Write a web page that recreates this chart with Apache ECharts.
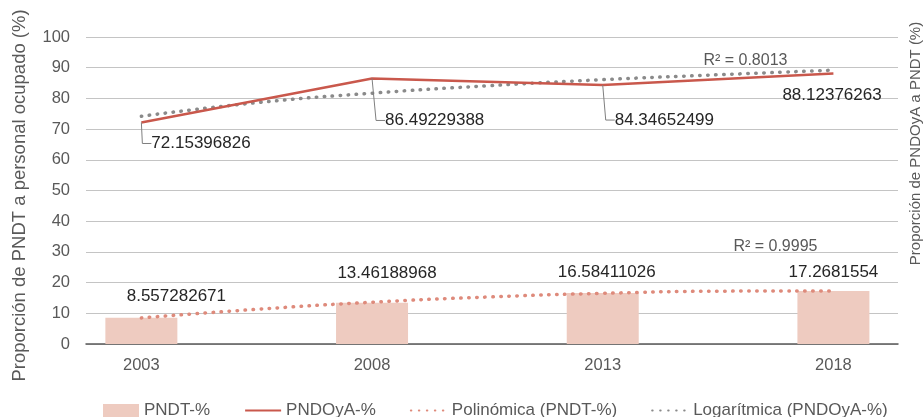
<!DOCTYPE html>
<html>
<head>
<meta charset="utf-8">
<script src="https://cdn.jsdelivr.net/npm/echarts@6/dist/echarts.min.js"></script>
<style>
html,body{margin:0;padding:0;background:#fff;}
#chart{width:923px;height:417px;}
</style>
</head>
<body>
<div id="chart"></div>
<script>
const years = [2003, 2008, 2013, 2018];
const pndt = [8.557282671, 13.46188968, 16.58411026, 17.2681554];
const pndoya = [72.15396826, 86.49229388, 84.34652499, 88.12376263];
const trendYears = [2003, 2005.5, 2008, 2010.5, 2013, 2015.5, 2018];
const polyTrend = [8.5, 11.3, 13.6, 15.3, 16.5, 17.2, 17.3];
const logTrend = [74.2, 78.6, 81.7, 84.1, 86.1, 87.7, 89.2];
const r2Poly = 'R² = 0.9995';
const r2Log = 'R² = 0.8013';
const seriesNames = ['PNDT-%', 'PNDOyA-%', 'Polinómica (PNDT-%)', 'Logarítmica (PNDOyA-%)'];
const leftTitle = 'Proporción de PNDT a personal ocupado (%)';
const rightTitle = 'Proporción de PNDOyA a PNDT (%)';

const FONT = 'Liberation Sans, Arial, sans-serif';
const chart = echarts.init(document.getElementById('chart'));

const barShift = [[35, -8], [15, -16], [4, -7], [0, -5]];
const lineShift = [[5, 21], [8, 42], [7, 35], [-56, 22]];

const lastIdx = trendYears.length - 1;
const hidden = { opacity: 0 };

chart.setOption({
  animation: false,
  textStyle: { fontFamily: FONT },
  grid: { left: 86, right: 25, top: 37, bottom: 73, outerBoundsMode: 'none', containLabel: false },
  legend: {
    left: 98, bottom: -7,
    itemWidth: 36, itemHeight: 13, itemGap: 34,
    textStyle: { fontSize: 17, color: '#595959', fontFamily: FONT },
    data: [
      { name: seriesNames[0], icon: 'rect' },
      { name: seriesNames[1], itemStyle: hidden },
      { name: seriesNames[2], itemStyle: hidden },
      { name: seriesNames[3], itemStyle: hidden }
    ]
  },
  xAxis: {
    type: 'value', min: 2001.8, max: 2019.4,
    axisLine: { show: true, lineStyle: { color: '#595959', width: 1.5 } },
    axisTick: { show: false },
    splitLine: { show: false },
    axisLabel: { customValues: years, fontSize: 16.5, color: '#595959', margin: 13, formatter: v => String(v) }
  },
  yAxis: [{
    type: 'value', min: 0, max: 100, interval: 10,
    axisLine: { show: false }, axisTick: { show: false },
    splitLine: { lineStyle: { color: '#C4C4C4', width: 1 } },
    axisLabel: { fontSize: 16.5, color: '#595959', margin: 16 },
    name: leftTitle, nameLocation: 'middle', nameGap: 57, nameRotate: 90,
    nameTextStyle: { fontSize: 18.5, color: '#595959', padding: [0, 10, 0, 0] }
  }, {
    type: 'value', min: 0, max: 100, interval: 10, position: 'right',
    axisLine: { show: false }, axisTick: { show: false },
    splitLine: { show: false }, axisLabel: { show: false },
    name: rightTitle, nameLocation: 'middle', nameGap: 10, nameRotate: 90,
    nameTextStyle: { fontSize: 15, color: '#595959', padding: [0, 0, 0, 94] }
  }],
  series: [{
    name: seriesNames[0], type: 'bar', barWidth: 72, z: 1,
    itemStyle: { color: '#EECBC0' },
    data: years.map((y, i) => [y, pndt[i]]),
    label: { show: true, position: 'top', fontSize: 17, color: '#262626', formatter: p => String(p.value[1]) },
    labelLayout: p => ({ dx: barShift[p.dataIndex][0], dy: barShift[p.dataIndex][1] })
  }, {
    name: seriesNames[1], type: 'line', yAxisIndex: 1, symbol: 'circle', symbolSize: 0.01, showSymbol: true, z: 4,
    lineStyle: { color: '#C9584C', width: 2.5 }, itemStyle: { color: '#C9584C' },
    data: years.map((y, i) => ({ value: [y, pndoya[i]], labelLine: { show: i < 3 } })),
    label: { show: true, position: 'right', distance: 5, fontSize: 17, color: '#262626', formatter: p => String(p.value[1]) },
    labelLine: { show: true, length2: 9, lineStyle: { color: '#7F7F7F', width: 1 } },
    labelLayout: p => ({ dx: lineShift[p.dataIndex][0], dy: lineShift[p.dataIndex][1] })
  }, {
    name: seriesNames[2], type: 'line', smooth: true, symbol: 'circle', symbolSize: 0.01, showSymbol: true, z: 3,
    lineStyle: { color: '#DE8A7B', width: 3.5, type: [0.5, 7.5], cap: 'round' },
    itemStyle: { color: '#DE8A7B' },
    data: trendYears.map((y, i) => [y, polyTrend[i]]),
    label: { show: true, position: 'top', fontSize: 16, color: '#595959', formatter: p => p.dataIndex === lastIdx ? r2Poly : '' },
    labelLayout: p => (p.dataIndex === lastIdx ? { dx: -58, dy: -31 } : {})
  }, {
    name: seriesNames[3], type: 'line', smooth: true, symbol: 'circle', symbolSize: 0.01, showSymbol: true, yAxisIndex: 1, z: 3,
    lineStyle: { color: '#8A8A8A', width: 3.5, type: [0.5, 7.5], cap: 'round' },
    itemStyle: { color: '#8A8A8A' },
    data: trendYears.map((y, i) => [y, logTrend[i]]),
    label: { show: true, position: 'top', fontSize: 16, color: '#595959', formatter: p => p.dataIndex === lastIdx ? r2Log : '' },
    labelLayout: p => (p.dataIndex === lastIdx ? { dx: -88, dy: 3 } : {})
  }]
});
</script>
</body>
</html>
